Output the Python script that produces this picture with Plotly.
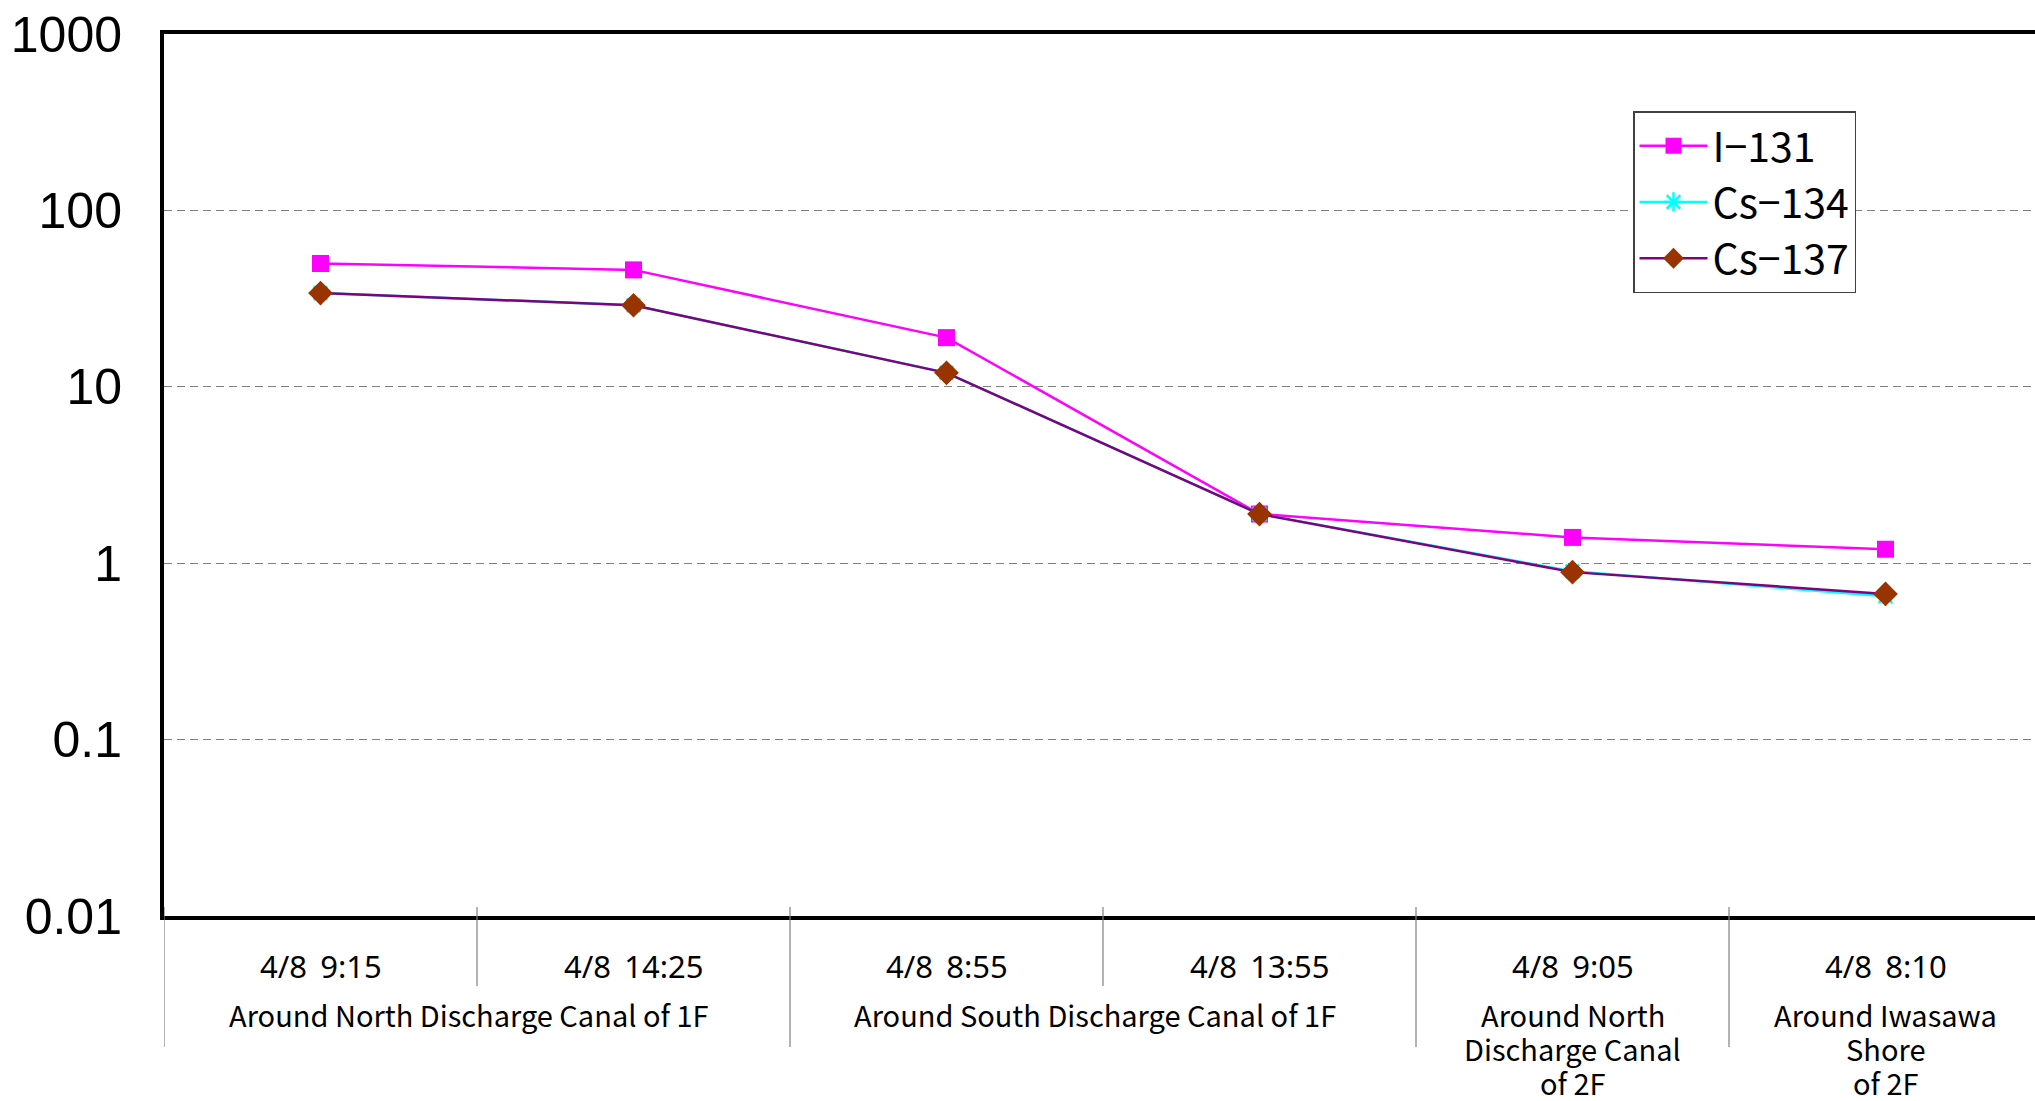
import plotly.graph_objects as go

# ---- data ----
times = ["4/8 9:15", "4/8 14:25", "4/8 8:55", "4/8 13:55", "4/8 9:05", "4/8 8:10"]
groups = [["Around North Discharge Canal of 1F"],
          ["Around South Discharge Canal of 1F"],
          ["Around North", "Discharge Canal", "of 2F"],
          ["Around Iwasawa", "Shore", "of 2F"]]
group_spans = [(0, 1), (2, 3), (4, 4), (5, 5)]
i131 = [50, 46, 19, 1.9, 1.4, 1.2]
cs134 = [34, 29, 12, 1.9, 0.9, 0.65]
cs137 = [34, 29, 12, 1.9, 0.89, 0.67]
y_ticks = [0.01, 0.1, 1, 10, 100, 1000]
y_ticktext = ["0.01", "0.1", "1", "10", "100", "1000"]

W, H = 2035, 1101
mt, mb, ml, mr = 34, 185, 164, 0
ph = H - mt - mb
pw = W - ml - mr
axis_y = H - mb  # pixel row of bottom axis

xs = list(range(len(times)))

fig = go.Figure()
fig.add_trace(go.Scatter(x=xs, y=i131, name="I\u2212131", mode="lines+markers",
                         line=dict(color="#FF00FF", width=2.5),
                         marker=dict(symbol="square", size=17, color="#FF00FF")))
fig.add_trace(go.Scatter(x=xs, y=cs134, name="Cs\u2212134", mode="lines+markers",
                         line=dict(color="#00FFFF", width=2.5),
                         marker=dict(symbol="asterisk-open", size=16,
                                     line=dict(color="#00FFFF", width=2.5))))
fig.add_trace(go.Scatter(x=xs, y=cs137, name="Cs\u2212137", mode="lines+markers",
                         line=dict(color="#800080", width=2.5),
                         marker=dict(symbol="diamond", size=19, color="#993300")))

def py(pix_row):
    return (axis_y - pix_row) / ph

shapes = []
for b in [-0.5, 0.5, 1.5, 2.5, 3.5, 4.5]:
    is_group = any(abs(b - (s[0] - 0.5)) < 1e-9 for s in group_spans)
    shapes.append(dict(type="line", xref="x", yref="paper", x0=b, x1=b,
                       y0=py(907), y1=py(1047 if is_group else 986),
                       line=dict(color="#808080", width=1.2)))

annotations = []
for i, t in enumerate(times):
    annotations.append(dict(x=i, y=py(966), xref="x", yref="paper",
                            text=t.replace(" ", " \u2009"),
                            showarrow=False, xanchor="center", yanchor="middle",
                            font=dict(family="Noto Sans", size=31, color="black")))
for lines, (a, b) in zip(groups, group_spans):
    shift = -0.025 if b > a else 0.0
    for k, ln in enumerate(lines):
        annotations.append(dict(x=(a + b) / 2 + shift, y=py(1014 + 34 * k),
                                xref="x", yref="paper", text=ln,
                                showarrow=False, xanchor="center", yanchor="middle",
                                font=dict(family="Noto Sans CJK JP", size=29, color="black")))

fig.update_layout(
    width=W, height=H,
    margin=dict(l=ml, r=mr, t=mt, b=mb, pad=0),
    paper_bgcolor="white", plot_bgcolor="white",
    showlegend=True,
    legend=dict(x=(1633 - ml) / pw, y=py(111),
                xanchor="left", yanchor="top",
                bgcolor="white", bordercolor="#404040", borderwidth=1.5,
                font=dict(family="Noto Sans CJK JP", size=41, color="black"),
                itemwidth=68, tracegroupgap=0),
    xaxis=dict(range=[-0.5, -0.5 + pw / 313.0], showgrid=False,
               showticklabels=False, ticks="", zeroline=False,
               showline=True, linecolor="black", linewidth=4, mirror=True),
    yaxis=dict(type="log", range=[-2, 3], tickvals=y_ticks, ticktext=y_ticktext,
               showgrid=True, gridcolor="#808080", gridwidth=1.2, griddash="8px,5px",
               showline=True, linecolor="black", linewidth=4, ticks="",
               ticklabelstandoff=28,
               tickfont=dict(family="Liberation Sans", size=50, color="black"),
               zeroline=False),
    shapes=shapes, annotations=annotations,
)

fig.write_html("out.html", config={"displayModeBar": False},
               post_script="document.body.style.margin='0';")
